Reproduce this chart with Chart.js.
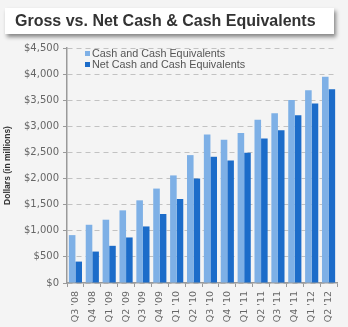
<!DOCTYPE html>
<html>
<head>
<meta charset="utf-8">
<script src="https://cdn.jsdelivr.net/npm/chart.js@4"></script>
<style>
  html, body { margin: 0; padding: 0; }
  body { width: 348px; height: 327px; background: #f4f4f4; position: relative; overflow: hidden; font-family: "Liberation Sans", Arial, sans-serif; }
  #wrap { position: absolute; left: 0; top: 0; width: 348px; height: 327px; }
  #title {
    position: absolute; left: 5px; top: 8px; width: 329px; height: 26px;
    background: #fff; box-shadow: 2px 3px 4px rgba(0,0,0,0.45);
    font-weight: bold; font-size: 16px; color: #333; line-height: 26px; padding-left: 10px; box-sizing: border-box;
  }
  #legend { position: absolute; left: 85px; top: 48px; font-size: 10.8px; color: #555; line-height: 11px; }
  #legend span.sw { display: inline-block; width: 5px; height: 5px; margin-right: 2px; vertical-align: 1px; }
</style>
</head>
<body>
<div id="wrap"><canvas id="cashChart" width="348" height="327"></canvas></div>
<div id="title">Gross vs. Net Cash &amp; Cash Equivalents</div>
<div id="legend"></div>
<script>
// Datos (millones de dólares)
const quarters = ["Q3 '08", "Q4 '08", "Q1 '09", "Q2 '09", "Q3 '09", "Q4 '09", "Q1 '10", "Q2 '10",
  "Q3 '10", "Q4 '10", "Q1 '11", "Q2 '11", "Q3 '11", "Q4 '11", "Q1 '12", "Q2 '12"];
const grossCash = [917, 1115, 1212, 1391, 1583, 1808, 2060, 2449, 2846, 2744, 2872, 3128, 3250, 3506, 3692, 3948];
const netCash = [410, 602, 712, 872, 1083, 1321, 1609, 2000, 2417, 2346, 2494, 2769, 2923, 3211, 3436, 3711];
const seriesNames = ['Cash and Cash Equivalents', 'Net Cash and Cash Equivalents'];

const colors = {
  gross: '#7eb0e6',
  net: '#1c6cc9',
  grid: '#c2c2c2',
  axis: '#9a9a9a',
  text: '#666',
};

// Leyenda HTML dentro del área del gráfico
document.getElementById('legend').innerHTML =
  `<div><span class="sw" style="background:${colors.gross}"></span>${seriesNames[0]}</div>` +
  `<div><span class="sw" style="background:${colors.net}"></span>${seriesNames[1]}</div>`;

const ctx = document.getElementById('cashChart');

new Chart(ctx, {
  type: 'bar',
  data: {
    labels: quarters,
    datasets: [
      {
        label: seriesNames[0],
        data: grossCash,
        backgroundColor: colors.gross,
        categoryPercentage: 0.78,
        barPercentage: 1,
      },
      {
        label: seriesNames[1],
        data: netCash,
        backgroundColor: colors.net,
        categoryPercentage: 0.78,
        barPercentage: 1,
      }
    ]
  },
  options: {
    responsive: false,
    animation: false,
    layout: { padding: { top: 48, right: 11, left: 0, bottom: 0 } },
    plugins: {
      legend: { display: false },
      tooltip: { enabled: false }
    },
    scales: {
      y: {
        min: 0,
        max: 4500,
        afterFit: (scale) => { scale.width = 67; },
        ticks: {
          stepSize: 500,
          color: colors.text,
          font: { size: 10, family: 'DejaVu Sans' },
          padding: 4,
          callback: (v) => '$' + v.toLocaleString('en-US')
        },
        grid: {
          color: colors.grid,
          tickColor: colors.axis,
          tickLength: 4,
          drawTicks: true,
        },
        border: { color: colors.axis, width: 1.5, dash: [5, 4] },
        title: {
          display: true,
          text: 'Dollars (in millions)',
          color: '#333',
          font: { size: 8.5, weight: 'bold', family: 'Liberation Sans' },
          padding: { top: 3, bottom: 0 }
        }
      },
      x: {
        afterFit: (scale) => { scale.height = 44; },
        ticks: {
          color: colors.text,
          font: { size: 9.5, family: 'DejaVu Sans' },
          minRotation: 90,
          maxRotation: 90,
          autoSkip: false,
          padding: 4
        },
        grid: {
          drawOnChartArea: false,
          color: colors.axis,
          tickLength: 4
        },
        border: { color: colors.axis, width: 1.5 }
      }
    }
  }
});
</script>
</body>
</html>
